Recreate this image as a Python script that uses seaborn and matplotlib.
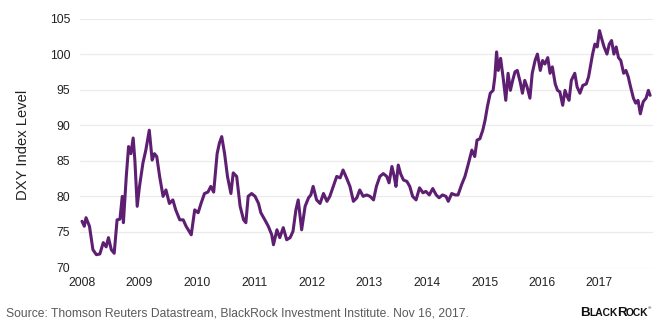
import matplotlib
matplotlib.use("Agg")
import matplotlib.pyplot as plt
import seaborn as sns
import pandas as pd

# Decimal-year dates and DXY index levels
dates = [2008.00, 2008.04, 2008.07, 2008.13, 2008.19, 2008.25, 2008.31, 2008.37, 2008.42, 2008.46,
         2008.51, 2008.56, 2008.61, 2008.66, 2008.70, 2008.72, 2008.77, 2008.81, 2008.85, 2008.89,
         2008.92, 2008.96, 2009.00, 2009.06, 2009.11, 2009.17, 2009.22, 2009.26, 2009.30, 2009.35,
         2009.41, 2009.46, 2009.52, 2009.58, 2009.63, 2009.70, 2009.76, 2009.81, 2009.90, 2009.96,
         2010.02, 2010.07, 2010.13, 2010.19, 2010.24, 2010.29, 2010.35, 2010.39, 2010.43, 2010.48,
         2010.53, 2010.59, 2010.63, 2010.69, 2010.75, 2010.81, 2010.85, 2010.89, 2010.95, 2011.01,
         2011.07, 2011.11, 2011.18, 2011.24, 2011.30, 2011.33, 2011.39, 2011.44, 2011.50, 2011.56,
         2011.62, 2011.67, 2011.72, 2011.76, 2011.82, 2011.88, 2011.94, 2011.98, 2012.02, 2012.08,
         2012.14, 2012.20, 2012.26, 2012.31, 2012.37, 2012.43, 2012.49, 2012.54, 2012.60, 2012.66,
         2012.72, 2012.78, 2012.83, 2012.89, 2012.95, 2013.01, 2013.07, 2013.12, 2013.18, 2013.24,
         2013.30, 2013.34, 2013.39, 2013.43, 2013.46, 2013.50, 2013.54, 2013.59, 2013.65, 2013.70,
         2013.75, 2013.81, 2013.87, 2013.93, 2013.98, 2014.04, 2014.10, 2014.16, 2014.21, 2014.27,
         2014.33, 2014.37, 2014.43, 2014.49, 2014.54, 2014.60, 2014.66, 2014.72, 2014.78, 2014.83,
         2014.87, 2014.92, 2014.97, 2015.01, 2015.05, 2015.10, 2015.15, 2015.18, 2015.21, 2015.24,
         2015.28, 2015.33, 2015.37, 2015.41, 2015.45, 2015.49, 2015.53, 2015.57, 2015.62, 2015.66,
         2015.70, 2015.74, 2015.79, 2015.83, 2015.88, 2015.92, 2015.97, 2016.01, 2016.05, 2016.10,
         2016.14, 2016.18, 2016.23, 2016.27, 2016.31, 2016.36, 2016.40, 2016.44, 2016.47, 2016.51,
         2016.57, 2016.61, 2016.66, 2016.71, 2016.77, 2016.81, 2016.85, 2016.88, 2016.92, 2016.96,
         2017.00, 2017.04, 2017.08, 2017.13, 2017.17, 2017.21, 2017.25, 2017.29, 2017.33, 2017.37,
         2017.42, 2017.46, 2017.50, 2017.54, 2017.59, 2017.63, 2017.67, 2017.71, 2017.76, 2017.81,
         2017.85, 2017.88]

dxy = [76.5, 75.8, 77.0, 75.8, 72.5, 71.8, 71.9, 73.5, 72.9, 74.2,
       72.5, 72.0, 76.7, 76.8, 80.0, 76.3, 82.8, 87.0, 86.0, 88.2,
       85.0, 78.6, 81.4, 84.7, 86.5, 89.3, 85.1, 86.0, 85.6, 82.8,
       80.0, 80.9, 79.0, 79.5, 78.1, 76.7, 76.7, 75.8, 74.6, 78.1,
       77.7, 79.0, 80.4, 80.6, 81.4, 80.6, 86.0, 87.5, 88.4, 86.0,
       82.8, 80.4, 83.3, 82.8, 78.6, 76.7, 76.3, 80.0, 80.4, 80.0,
       79.0, 77.7, 76.7, 75.8, 74.6, 73.2, 75.3, 74.2, 75.6, 73.9,
       74.2, 75.1, 78.1, 79.5, 75.3, 78.6, 79.8, 80.2, 81.4, 79.5,
       79.0, 80.4, 79.3, 80.0, 81.4, 82.8, 82.6, 83.7, 82.6, 81.4,
       79.3, 79.8, 80.9, 80.0, 80.2, 80.0, 79.5, 81.4, 82.8, 83.2,
       82.8, 81.9, 84.2, 82.8, 81.4, 84.4, 83.2, 82.3, 82.1, 81.4,
       80.0, 79.5, 81.2, 80.5, 80.7, 80.2, 81.1, 80.2, 79.8, 80.2,
       80.0, 79.3, 80.4, 80.2, 80.2, 81.6, 82.8, 84.6, 86.5, 85.6,
       87.9, 88.1, 89.3, 90.7, 92.6, 94.5, 94.9, 96.8, 100.3, 97.7,
       99.4, 96.3, 93.5, 97.3, 94.9, 96.3, 97.5, 97.7, 96.1, 94.5,
       96.3, 95.4, 93.8, 97.3, 99.1, 100.0, 97.7, 99.1, 98.6, 99.5,
       97.3, 98.2, 95.8, 94.9, 94.7, 92.8, 94.9, 94.0, 93.5, 96.3,
       97.3, 95.4, 94.5, 95.6, 95.8, 96.8, 98.6, 100.0, 101.4, 101.0,
       103.3, 102.1, 101.0, 100.0, 101.4, 101.9, 100.0, 101.0, 99.5, 99.1,
       97.3, 97.7, 96.8, 95.4, 93.8, 93.1, 93.5, 91.6, 93.3, 93.8,
       94.9, 94.2]

year_ticks = [2008, 2009, 2010, 2011, 2012, 2013, 2014, 2015, 2016, 2017]
y_ticks = [70, 75, 80, 85, 90, 95, 100, 105]
y_label = "DXY Index Level"
source = "Source: Thomson Reuters Datastream, BlackRock Investment Institute. Nov 16, 2017."

sns.set_theme(style="whitegrid")
plt.rcParams["font.family"] = ["Liberation Sans", "DejaVu Sans"]

W, H = 662, 325
fig = plt.figure(figsize=(W / 100, H / 100), dpi=100)
ax = fig.add_axes([80 / W, 1 - 267.5 / H, 573 / W, 249 / H])

df = pd.DataFrame({"date": dates, "DXY": dxy})
sns.lineplot(data=df, x="date", y="DXY", ax=ax, color="#5e1f72", linewidth=2.2)

ax.set_xlim(2008 - 2 / 57.5, 2008 + 571 / 57.5)
ax.set_ylim(70, 105)
ax.set_xticks(year_ticks)
ax.set_xticklabels([str(y) for y in year_ticks])
ax.set_yticks(y_ticks)
ax.set_yticklabels([str(v) for v in y_ticks])
ax.grid(axis="y", color="#ebebeb", linewidth=0.9)
ax.grid(axis="x", visible=False)
for s in ax.spines.values():
    s.set_visible(False)
ax.set_facecolor("white")
ax.tick_params(axis="both", length=0, labelsize=8.7, colors="#222222")
ax.tick_params(axis="x", pad=7)
ax.tick_params(axis="y", pad=7)
ax.set_xlabel("")
ax.set_ylabel(y_label, fontsize=10.6, color="#222222")
ax.yaxis.set_label_coords(-57 / 573, 0.494)
ax.yaxis.label.set_verticalalignment("center")

fig.text(6 / W, 1 - 313 / H, source, fontsize=8.7, color="#5a5a5a", ha="left", va="center")

# BlackRock wordmark in small caps
fig.canvas.draw()
r = fig.canvas.get_renderer()
x = 580.0
base = 1 - 315.5 / H
for s, fs in [("B", 9.6), ("LACK", 7.4), ("R", 9.6), ("OCK", 7.4)]:
    t = fig.text(x / W, base, s, fontsize=fs, fontweight="bold", color="#111111",
                 ha="left", va="baseline")
    bb = t.get_window_extent(r)
    x = bb.x1 - 0.6
fig.text((x + 0.3) / W, 1 - 309 / H, "®", fontsize=3.2, color="#111111", ha="left", va="baseline")

fig.savefig("out.png", dpi=100, facecolor="white")
